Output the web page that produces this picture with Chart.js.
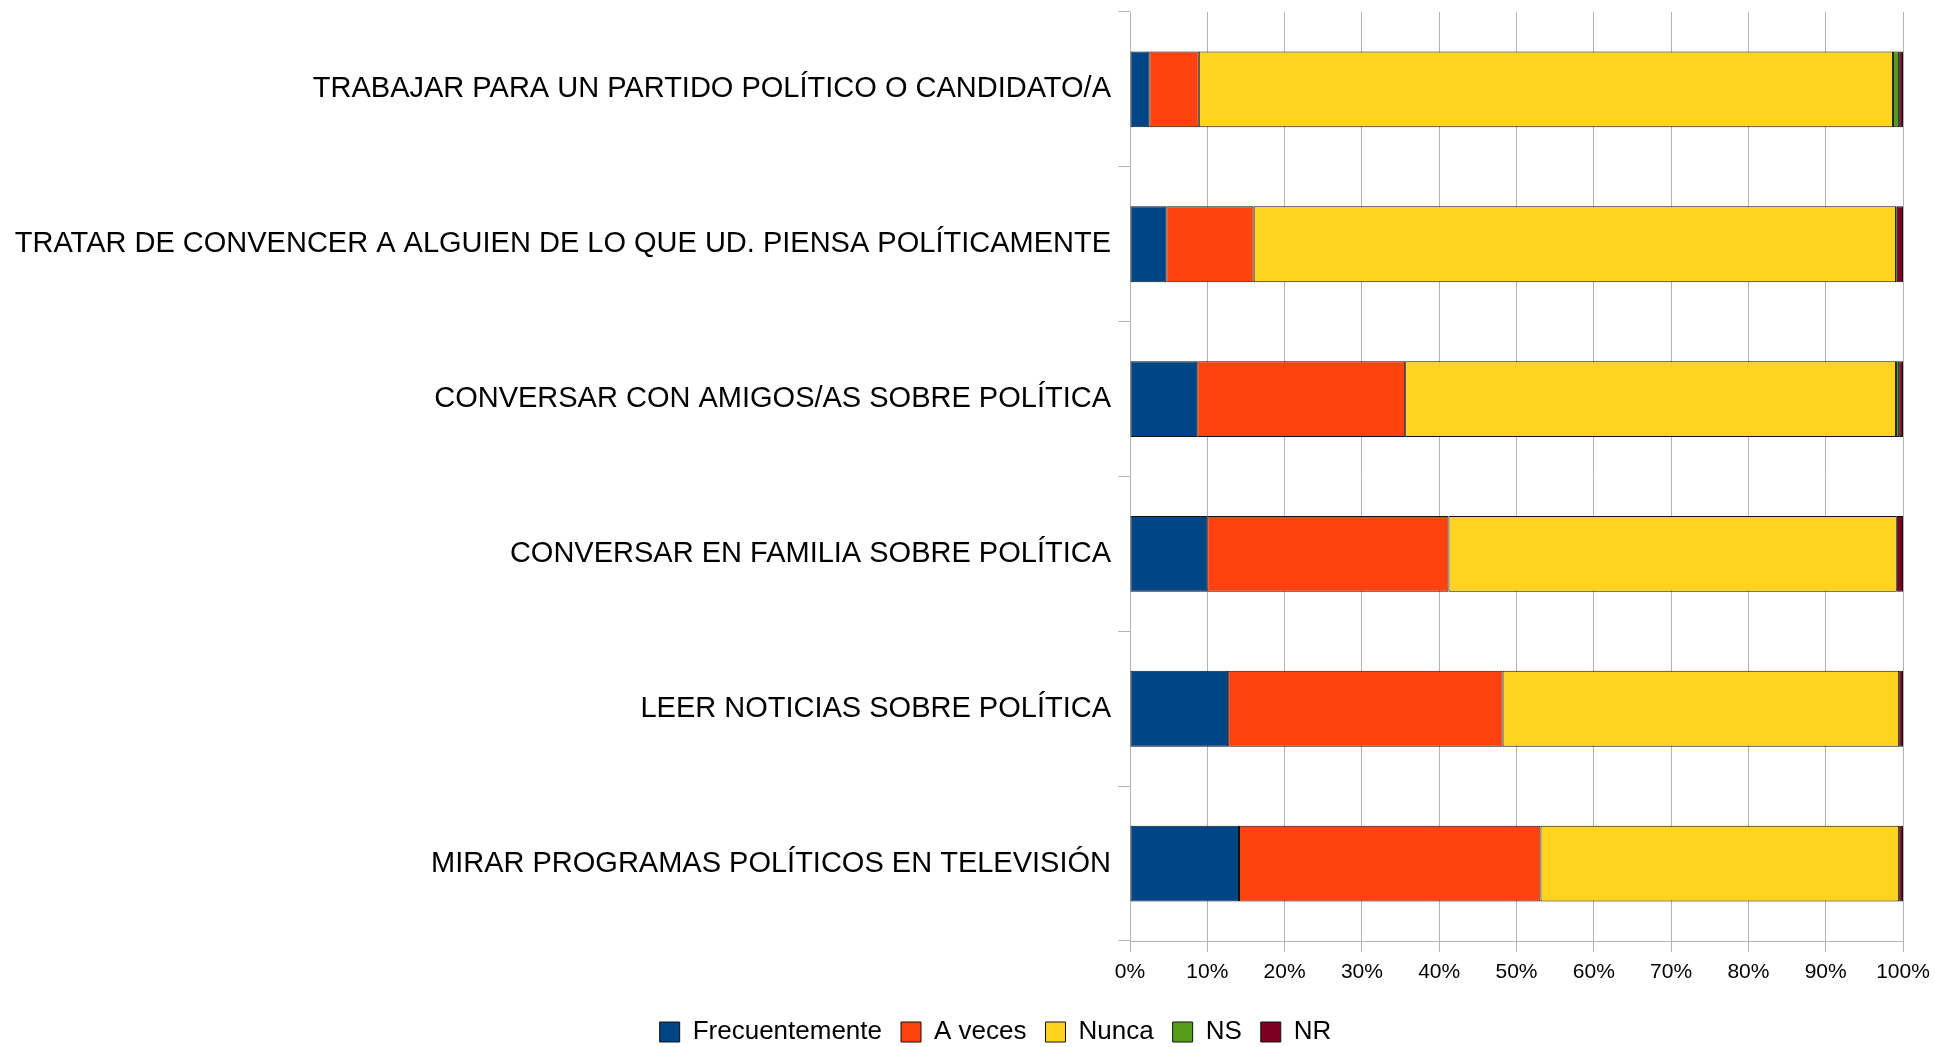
<!DOCTYPE html>
<html>
<head>
<meta charset="utf-8">
<script src="https://cdn.jsdelivr.net/npm/chart.js@4/dist/chart.umd.min.js"></script>
<style>
html,body{margin:0;padding:0;background:#fff;overflow:hidden;}
#wrap{position:relative;width:1935px;height:1055px;}
</style>
</head>
<body>
<div id="wrap"><canvas id="c"></canvas></div>
<script>
const categories = [
  "TRABAJAR PARA UN PARTIDO POLÍTICO O CANDIDATO/A",
  "TRATAR DE CONVENCER A ALGUIEN DE LO QUE UD. PIENSA POLÍTICAMENTE",
  "CONVERSAR CON AMIGOS/AS SOBRE POLÍTICA",
  "CONVERSAR EN FAMILIA SOBRE POLÍTICA",
  "LEER NOTICIAS SOBRE POLÍTICA",
  "MIRAR PROGRAMAS POLÍTICOS EN TELEVISIÓN"
];
const seriesNames = ["Frecuentemente", "A veces", "Nunca", "NS", "NR"];
const frecuentemente = [2.5, 4.7, 8.7, 10.0, 12.7, 14.1];
const aVeces = [6.4, 11.3, 26.9, 31.2, 35.5, 39.0];
const nunca = [89.8, 83.1, 63.5, 58.0, 51.3, 46.4];
const ns = [0.8, 0.1, 0.4, 0.0, 0.0, 0.0];
const nr = [0.5, 0.8, 0.5, 0.8, 0.5, 0.5];
const xTicks = [0, 10, 20, 30, 40, 50, 60, 70, 80, 90, 100];

const colors = ["#004586", "#ff420e", "#ffd320", "#579d1c", "#7e0021"];
const values = [frecuentemente, aVeces, nunca, ns, nr];
const FONT = "'Liberation Sans', Arial, sans-serif";
const GRID = "#b3b3b3";
const LEGEND_SHIFT = 88;

const datasets = seriesNames.map((name, i) => ({
  label: name,
  data: values[i],
  backgroundColor: colors[i],
  borderColor: "#111111",
  borderWidth: 1,
  borderSkipped: false,
  barPercentage: 0.49,
  categoryPercentage: 1.0
}));

const legendShift = {
  id: "legendShift",
  afterLayout(chart) {
    if (chart.legend) chart.legend.left += LEGEND_SHIFT;
  }
};

new Chart(document.getElementById("c"), {
  type: "bar",
  data: { labels: categories, datasets },
  plugins: [legendShift],
  options: {
    indexAxis: "y",
    responsive: true,
    maintainAspectRatio: false,
    animation: false,
    layout: { padding: { top: 12, right: 32, left: 0, bottom: 0 } },
    plugins: {
      tooltip: { enabled: false },
      legend: {
        position: "bottom",
        labels: {
          boxWidth: 20,
          boxHeight: 20,
          padding: 19,
          color: "#000",
          font: { family: FONT, size: 26 }
        }
      }
    },
    scales: {
      x: {
        stacked: true,
        min: 0,
        max: 100,
        afterBuildTicks: (s) => { s.ticks = xTicks.map(v => ({ value: v })); },
        afterFit: (s) => { s.height = 59; s.paddingLeft = 0; s.paddingRight = 0; },
        ticks: {
          color: "#000",
          padding: 8,
          font: { family: FONT, size: 21 },
          callback: (v) => v + "%"
        },
        grid: { color: GRID, lineWidth: 1, tickLength: 11, tickColor: GRID },
        border: { color: GRID, width: 1 }
      },
      y: {
        stacked: true,
        afterFit: (s) => { s.width = 1130; s.paddingTop = 0; s.paddingBottom = 0; },
        ticks: {
          color: "#000",
          padding: 7,
          font: { family: FONT, size: 29 }
        },
        grid: { drawOnChartArea: false, tickLength: 12, color: GRID, tickColor: GRID, offset: true },
        border: { color: GRID, width: 1 }
      }
    }
  }
});
</script>
</body>
</html>
